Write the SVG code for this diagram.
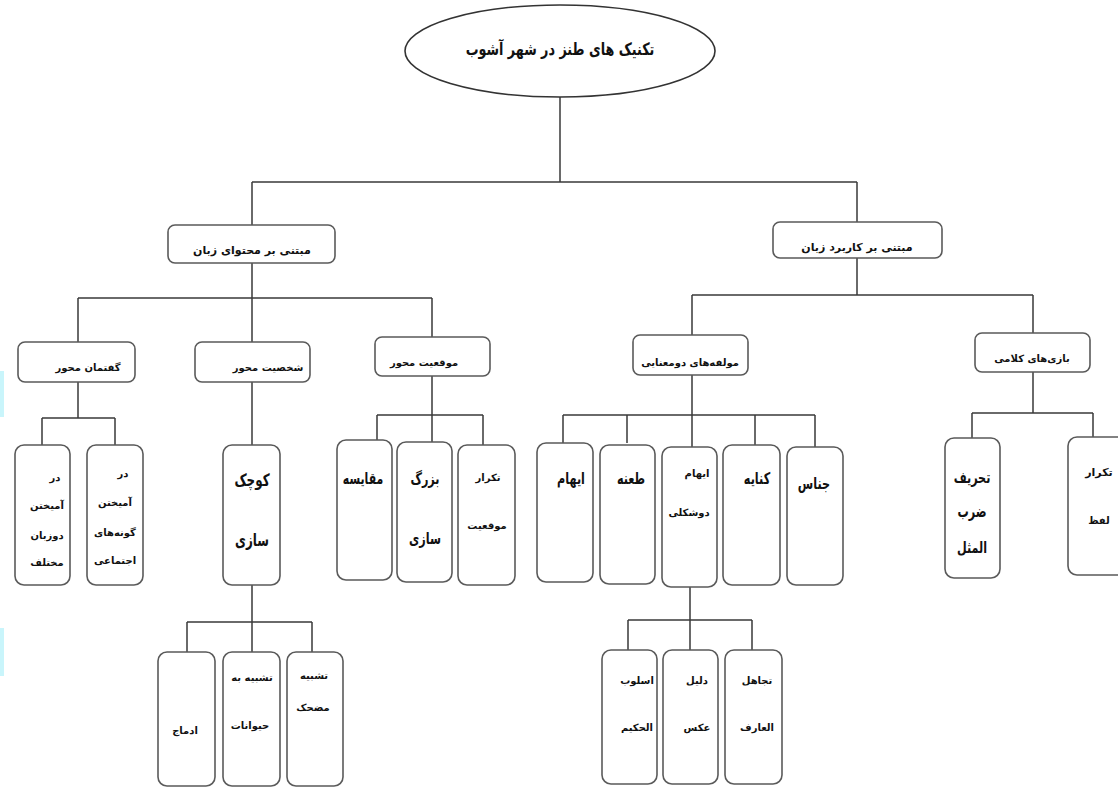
<svg xmlns="http://www.w3.org/2000/svg" width="1118" height="788" viewBox="0 0 1118 788">
<style>
.bx{fill:#fff;stroke:#5a5a5a;stroke-width:1.6}
.ln{fill:none;stroke:#3a3a3a;stroke-width:1.5}
text{font-family:"DejaVu Sans","Noto Sans",sans-serif;font-weight:bold;fill:#111;text-anchor:middle;dominant-baseline:central}
.s{font-size:10px}
.m{font-size:11px}
.b{font-size:16px}
.t{font-size:17px}
</style>
<rect width="1118" height="788" fill="#fff"/>
<rect x="0" y="371" width="4" height="46" fill="#c9f5fb"/>
<rect x="0" y="628" width="4" height="48" fill="#c9f5fb"/>
<g id="connectors">
<path class="ln" d="M560 97V182M252 182H857M252 182V225M857 182V222"/>
<path class="ln" d="M252 263V298M78 298H432M78 298V342M252 298V342M432 298V337"/>
<path class="ln" d="M857 258V295M692 295H1033M692 295V335M1033 295V333"/>
<path class="ln" d="M78 382V418M42 418H115M42 418V445M115 418V445"/>
<path class="ln" d="M252 382V445"/>
<path class="ln" d="M252 585V622M187 622H312M187 622V652M252 622V652M312 622V652"/>
<path class="ln" d="M432 376V415M377 415H483M377 415V440M432 415V442M483 415V445"/>
<path class="ln" d="M692 375V415M563 415H815M563 415V443M627 415V443M692 415V447M755 415V445M815 415V447"/>
<path class="ln" d="M690 587V620M628 620H752M628 620V650M690 620V650M752 620V650"/>
<path class="ln" d="M1033 372V413M972 413H1093M972 413V438M1093 413V437"/>
</g>
<g id="root"><ellipse cx="560" cy="51" rx="155" ry="46" fill="#fff" stroke="#333" stroke-width="1.6"/><text class="t" transform="translate(560 49) scale(.75 1)">تکنیک های طنز در شهر آشوب</text></g>
<g id="content"><rect class="bx" x="168" y="225" width="167" height="38" rx="7"/><text class="m" x="252" y="250">مبتنی بر محتوای زبان</text></g>
<g id="usage"><rect class="bx" x="773" y="222" width="169" height="36" rx="7"/><text class="m" x="857" y="247">مبتنی بر کاربرد زبان</text></g>
<g id="discourse"><rect class="bx" x="18" y="342" width="117" height="40" rx="7"/><text class="s" x="88" y="367">گفتمان محور</text></g>
<g id="character"><rect class="bx" x="195" y="342" width="115" height="40" rx="7"/><text class="s" x="268" y="367">شخصیت محور</text></g>
<g id="situation"><rect class="bx" x="375" y="337" width="115" height="39" rx="7"/><text class="s" x="424" y="362">موقعیت محور</text></g>
<g id="ambiguity"><rect class="bx" x="633" y="335" width="115" height="40" rx="7"/><text class="s" x="690" y="362">مولفه‌های دومعنایی</text></g>
<g id="wordplay"><rect class="bx" x="975" y="333" width="115" height="39" rx="7"/><text class="s" x="1032" y="358">بازی‌های کلامی</text></g>
<g id="mix-lang"><rect class="bx" x="15" y="445" width="55" height="140" rx="9"/><text class="s" x="55" y="477">در</text><text class="s" x="47" y="505">آمیختن</text><text class="s" x="47" y="535">دوزبان</text><text class="s" x="47" y="562">مختلف</text></g>
<g id="mix-social"><rect class="bx" x="87" y="445" width="56" height="140" rx="9"/><text class="s" x="123" y="473">در</text><text class="s" x="115" y="502">آمیختن</text><text class="s" x="115" y="532">گونه‌های</text><text class="s" x="115" y="560">اجتماعی</text></g>
<g id="diminish"><rect class="bx" x="223" y="445" width="57" height="140" rx="9"/><text class="t" transform="translate(252 480) scale(.7 1)">کوچک</text><text class="t" transform="translate(252 540) scale(.7 1)">سازی</text></g>
<g id="compare"><rect class="bx" x="337" y="440" width="55" height="140" rx="9"/><text class="b" transform="translate(363 478) scale(.68 1)">مقایسه</text></g>
<g id="enlarge"><rect class="bx" x="397" y="442" width="55" height="140" rx="9"/><text class="b" transform="translate(425 478) scale(.7 1)">بزرگ</text><text class="b" transform="translate(425 538) scale(.7 1)">سازی</text></g>
<g id="repeat-situation"><rect class="bx" x="458" y="445" width="57" height="140" rx="9"/><text class="s" x="488" y="477">تکرار</text><text class="s" x="487" y="525">موقعیت</text></g>
<g id="iham"><rect class="bx" x="537" y="443" width="56" height="139" rx="9"/><text class="b" transform="translate(571 478) scale(.7 1)">ایهام</text></g>
<g id="taane"><rect class="bx" x="600" y="445" width="55" height="139" rx="9"/><text class="b" transform="translate(631 478) scale(.7 1)">طعنه</text></g>
<g id="iham2"><rect class="bx" x="662" y="447" width="55" height="140" rx="9"/><text class="s" x="697" y="473">ایهام</text><text class="s" x="689" y="512">دوشکلی</text></g>
<g id="kenaye"><rect class="bx" x="723" y="445" width="57" height="140" rx="9"/><text class="b" transform="translate(757 478) scale(.7 1)">کنایه</text></g>
<g id="jenas"><rect class="bx" x="787" y="447" width="56" height="138" rx="9"/><text class="b" transform="translate(814 483) scale(.7 1)">جناس</text></g>
<g id="tahrif"><rect class="bx" x="945" y="438" width="55" height="140" rx="9"/><text class="b" transform="translate(972 477) scale(.7 1)">تحریف</text><text class="b" transform="translate(972 511) scale(.7 1)">ضرب</text><text class="b" transform="translate(972 547) scale(.7 1)">المثل</text></g>
<g id="repeat-word"><rect class="bx" x="1068" y="437" width="60" height="138" rx="9"/><text class="m" x="1099" y="472">تکرار</text><text class="s" x="1099" y="520">لفظ</text></g>
<g id="edmaj"><rect class="bx" x="158" y="652" width="57" height="134" rx="9"/><text class="s" x="185" y="730">ادماج</text></g>
<g id="animals"><rect class="bx" x="223" y="652" width="57" height="134" rx="9"/><text class="s" x="252" y="677">تشبیه به</text><text class="s" x="250" y="725">حیوانات</text></g>
<g id="funny"><rect class="bx" x="287" y="652" width="56" height="134" rx="9"/><text class="s" x="314" y="675">تشبیه</text><text class="s" x="313" y="707">مضحک</text></g>
<g id="oslub"><rect class="bx" x="602" y="650" width="55" height="134" rx="9"/><text class="s" x="637" y="680">اسلوب</text><text class="s" x="637" y="727">الحکیم</text></g>
<g id="dalil"><rect class="bx" x="663" y="650" width="55" height="134" rx="9"/><text class="s" x="697" y="680">دلیل</text><text class="s" x="697" y="727">عکس</text></g>
<g id="tajahol"><rect class="bx" x="725" y="650" width="57" height="134" rx="9"/><text class="s" x="757" y="680">تجاهل</text><text class="s" x="757" y="727">العارف</text></g>
</svg>
